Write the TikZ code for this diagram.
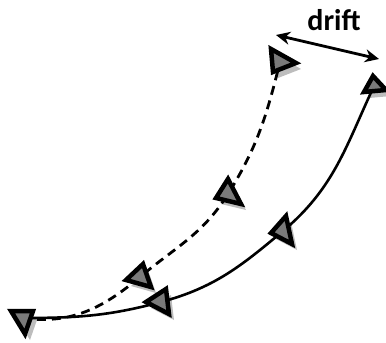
\documentclass[tikz,border=0pt]{standalone}
\usepackage{fontspec}
\setmainfont{Carlito}
\usetikzlibrary{arrows.meta}
\definecolor{camfill}{HTML}{7A7A7A}
\definecolor{camshadow}{HTML}{BDBDBD}
\tikzset{
  camshape/.style={fill=camfill,draw=black,line width=4.5pt,line join=miter},
  shadowshape/.style={fill=camshadow},
  dashtrack/.style={line width=2.8pt,dash pattern=on 9pt off 6pt},
  solidtrack/.style={line width=2.6pt},
  driftarrow/.style={line width=2.8pt,{Stealth[length=14pt,width=13pt]}-{Stealth[length=14pt,width=13pt]}},
  drifttext/.style={font=\bfseries\fontsize{30}{33}\selectfont,inner sep=0pt}
}
\begin{document}
\begin{tikzpicture}[x=1pt,y=-1pt]
\useasboundingbox (0,0) rectangle (386,343);
\clip (0,0) rectangle (386,343);
% centres
\coordinate (t1) at (22,318);
\coordinate (t2) at (140,277);
\coordinate (t3) at (161,302);
\coordinate (t4) at (228,194);
\coordinate (t5) at (283,231);
\coordinate (t6) at (280,62);
\coordinate (t7) at (374,86);
% shadows
\foreach \a/\b/\c in {{11,311}/{33,311}/{25,334},{126,280}/{143,264}/{151,287},{146,302}/{166,289}/{169,314},{228,179}/{216,198}/{241,204},{286,216}/{271,233}/{292,244},{271,49}/{296,63}/{273,72},{373,76}/{364,92}/{386,90}}
  \fill[shadowshape,shift={(5,6)}] (\a) -- (\b) -- (\c) -- cycle;
% tracks
\draw[dashtrack] (t1) to[out=-8,in=-140] (t2) to[out=40,in=-122] (t4) to[out=58,in=-104] (t6);
\draw[solidtrack] (t1) to[out=0,in=-165] (t3) to[out=15,in=-140] (t5) to[out=40,in=-115] (t7);
% cameras
\foreach \a/\b/\c in {{11,311}/{33,311}/{25,334},{126,280}/{143,264}/{151,287},{146,302}/{166,289}/{169,314},{228,179}/{216,198}/{241,204},{286,216}/{271,233}/{292,244},{271,49}/{296,63}/{273,72},{373,76}/{364,92}/{386,90}}
  \draw[camshape] (\a) -- (\b) -- (\c) -- cycle;
% drift
\coordinate (d1) at (276,35);
\coordinate (d2) at (379,59);
\draw[driftarrow] (d1) -- (d2);
\node[drifttext] (drift) at (334,20) {drift};
\end{tikzpicture}
\end{document}
